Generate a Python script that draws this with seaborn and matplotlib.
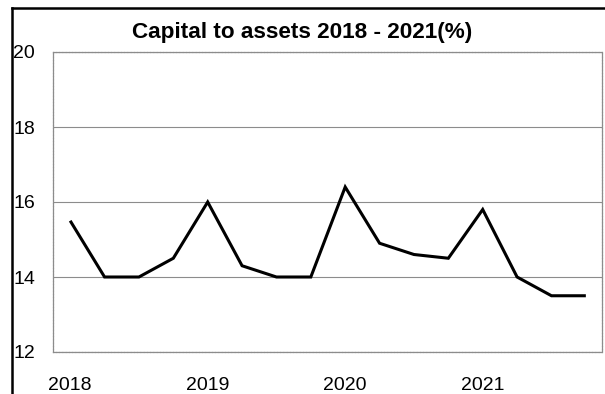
import matplotlib
matplotlib.use("Agg")
import matplotlib.pyplot as plt
from matplotlib.lines import Line2D
import seaborn as sns
import pandas as pd

# Quarterly capital-to-assets ratio (%), Q1 2018 .. Q4 2021
quarters = list(range(16))
capital_to_assets = [15.5, 14.0, 14.0, 14.5,
                     16.0, 14.3, 14.0, 14.0,
                     16.4, 14.9, 14.6, 14.5,
                     15.8, 14.0, 13.5, 13.5]
year_labels = ["2018", "2019", "2020", "2021"]
year_positions = [0, 4, 8, 12]
y_ticks = [12, 14, 16, 18, 20]

df = pd.DataFrame({"quarter": quarters, "value": capital_to_assets})

sns.set_theme(style="white")
plt.rcParams["font.family"] = ["Liberation Sans", "DejaVu Sans"]

W, H = 605, 394
fig = plt.figure(figsize=(W / 100, H / 100), dpi=100)
fig.patch.set_facecolor("white")

ax = fig.add_axes([53 / W, 1 - 352 / H, 549 / W, 300 / H])
ax.set_facecolor("white")

sns.lineplot(data=df, x="quarter", y="value", ax=ax, color="black",
             linewidth=2.2, solid_joinstyle="miter", solid_capstyle="butt",
             zorder=3)

ax.set_xlim(-0.5, 15.47)
ax.set_ylim(12, 20)
ax.set_xticks(year_positions)
ax.set_xticklabels(year_labels)
ax.set_yticks(y_ticks)
ax.set_yticklabels([str(v) for v in y_ticks])
ax.tick_params(axis="both", length=0, labelsize=14, colors="black")
ax.tick_params(axis="y", pad=13)
ax.tick_params(axis="x", pad=18)
ax.set_xlabel("")
ax.set_ylabel("")

ax.yaxis.grid(True, color="#8c8c8c", linewidth=0.8)
ax.xaxis.grid(False)
for side in ["left", "right", "top", "bottom"]:
    ax.spines[side].set_visible(True)
    ax.spines[side].set_color("#8c8c8c")
    ax.spines[side].set_linewidth(0.9)
    ax.spines[side].set_linestyle((0, (2, 0.6)))

fig.text(302 / W, 1 - 38 / H, "Capital to assets 2018 - 2021(%)",
         ha="center", va="baseline", fontsize=16.2, fontweight="bold",
         color="black")

# Outer chart frame (left and top edges)
fig.add_artist(Line2D([12 / W, 12 / W], [0, 1 - 8 / H], transform=fig.transFigure,
                      color="black", linewidth=1.8, solid_capstyle="projecting"))
fig.add_artist(Line2D([12 / W, 1], [1 - 8 / H, 1 - 8 / H], transform=fig.transFigure,
                      color="black", linewidth=1.8, solid_capstyle="projecting"))

fig.savefig("out.png", dpi=100, facecolor="white")
